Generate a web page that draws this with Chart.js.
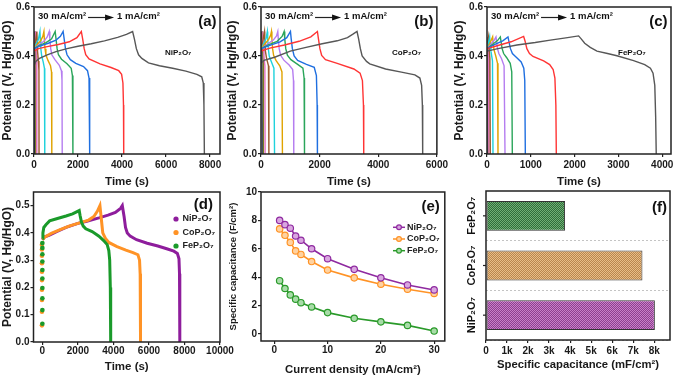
<!DOCTYPE html>
<html>
<head>
<meta charset="utf-8">
<script src="https://cdn.jsdelivr.net/npm/chart.js@4.4.1/dist/chart.umd.min.js"></script>
<style>
  body { margin: 0; background: #fff; width: 676px; height: 378px; position: relative; overflow: hidden; }
  .cell { position: absolute; }
</style>
</head>
<body>
<div class="cell" style="left:0;top:0"><canvas id="pa" width="225" height="190"></canvas></div>
<div class="cell" style="left:225px;top:0"><canvas id="pb" width="225" height="190"></canvas></div>
<div class="cell" style="left:450px;top:0"><canvas id="pc" width="226" height="190"></canvas></div>
<div class="cell" style="left:0;top:185px"><canvas id="pd" width="240" height="193"></canvas></div>
<div class="cell" style="left:225px;top:185px"><canvas id="pe" width="225" height="193"></canvas></div>
<div class="cell" style="left:450px;top:185px"><canvas id="pf" width="226" height="193"></canvas></div>
<script>
// current densities (mA/cm2), the GCD curves below go in this order
const currents = [1, 2, 3, 4, 5, 7, 10, 15, 20, 25, 30];
const gcdColors = ['#575757', '#ff3434', '#1f6fe0', '#2aa55a', '#b57df0', '#e0a300',
                   '#1ed2dc', '#9c5a2c', '#e070c0', '#7a7a20', '#203c90'];

// tick values
const potTicks = [0, 0.2, 0.4, 0.6];
const niTimeTicks = [0, 2000, 4000, 6000, 8000];
const coTimeTicks = [0, 2000, 4000, 6000];
const feTimeTicks = [0, 1000, 2000, 3000, 4000];
const dTimeTicks = [0, 2000, 4000, 6000, 8000, 10000];
const dPotTicks = [0, 0.1, 0.2, 0.3, 0.4, 0.5];
const capTicks = [0, 2, 4, 6, 8, 10];
const curTicks = [0, 10, 20, 30];
const barTicks = [0, 1000, 2000, 3000, 4000, 5000, 6000, 7000, 8000];

// (a) NiP2O7 charge/discharge, [time s, potential V]
const niGcd = [
  [[0,0.36],[80,0.378],[250,0.39],[600,0.405],[1000,0.418],[1500,0.43],[2000,0.44],[2600,0.45],[3200,0.462],[3800,0.476],[4200,0.488],[4480,0.5],[4560,0.47],[4650,0.43],[4750,0.405],[4900,0.39],[5200,0.372],[5700,0.36],[6300,0.35],[6900,0.338],[7400,0.325],[7620,0.315],[7690,0.29],[7720,0.2],[7740,0]],
  [[0,0.42],[200,0.43],[600,0.438],[1100,0.447],[1600,0.458],[1950,0.475],[2150,0.5],[2210,0.47],[2280,0.43],[2350,0.405],[2500,0.388],[3000,0.368],[3500,0.353],[3850,0.34],[3980,0.325],[4040,0.29],[4065,0.2],[4076,0]],
  [[0,0.43],[250,0.44],[650,0.452],[1000,0.465],[1200,0.48],[1323,0.5],[1370,0.47],[1430,0.43],[1500,0.405],[1650,0.385],[1900,0.37],[2250,0.357],[2430,0.34],[2500,0.31],[2525,0.2],[2534,0]],
  [[0,0.43],[250,0.443],[550,0.455],[800,0.47],[962,0.5],[1000,0.47],[1050,0.43],[1110,0.405],[1250,0.387],[1500,0.368],[1690,0.35],[1745,0.32],[1765,0.2],[1771,0]],
  [[0,0.43],[200,0.445],[450,0.46],[600,0.478],[692,0.5],[720,0.47],[760,0.43],[810,0.405],[950,0.385],[1150,0.362],[1245,0.34],[1272,0.3],[1282,0]],
  [[0,0.43],[150,0.447],[300,0.462],[400,0.48],[451,0.5],[470,0.47],[500,0.43],[540,0.405],[630,0.383],[750,0.36],[795,0.335],[809,0]],
  [[0,0.43],[100,0.45],[200,0.468],[270,0.5],[285,0.47],[310,0.43],[350,0.4],[420,0.375],[475,0.35],[489,0]],
  [[0,0.435],[60,0.455],[130,0.5],[140,0.47],[160,0.42],[200,0.38],[225,0.34],[229,0]],
  [[0,0.44],[40,0.465],[75,0.5],[85,0.46],[105,0.4],[125,0.36],[130,0]],
  [[0,0.44],[45,0.5],[55,0.45],[75,0.38],[80,0]],
  [[0,0.44],[25,0.5],[32,0.44],[45,0]]
];

// (b) CoP2O7
const coGcd = [
  [[0,0.37],[100,0.382],[465,0.395],[1000,0.42],[1500,0.434],[2086,0.45],[2600,0.462],[2950,0.475],[3150,0.49],[3276,0.5],[3330,0.47],[3390,0.43],[3450,0.4],[3600,0.378],[3710,0.368],[4250,0.347],[4790,0.334],[5250,0.323],[5420,0.31],[5480,0.28],[5505,0.2],[5516,0]],
  [[0,0.42],[300,0.432],[800,0.445],[1300,0.46],[1700,0.478],[1924,0.5],[1960,0.47],[2010,0.43],[2070,0.402],[2200,0.385],[2600,0.37],[3168,0.347],[3380,0.33],[3460,0.3],[3495,0.2],[3505,0]],
  [[0,0.43],[300,0.443],[650,0.458],[880,0.475],[1005,0.5],[1030,0.47],[1070,0.43],[1130,0.4],[1250,0.382],[1550,0.366],[1816,0.354],[1890,0.32],[1915,0.2],[1925,0]],
  [[0,0.43],[250,0.445],[550,0.46],[720,0.48],[789,0.5],[810,0.47],[845,0.43],[900,0.403],[1020,0.385],[1250,0.366],[1430,0.35],[1470,0.31],[1484,0]],
  [[0,0.43],[200,0.447],[420,0.465],[530,0.482],[573,0.5],[590,0.47],[620,0.43],[670,0.403],[780,0.383],[960,0.363],[1080,0.345],[1108,0.3],[1118,0]],
  [[0,0.43],[120,0.447],[260,0.468],[330,0.485],[357,0.5],[372,0.47],[395,0.43],[430,0.403],[510,0.382],[640,0.36],[715,0.335],[731,0]],
  [[0,0.43],[80,0.448],[170,0.47],[216,0.5],[228,0.47],[250,0.43],[280,0.4],[350,0.378],[440,0.35],[462,0]],
  [[0,0.435],[50,0.455],[119,0.5],[128,0.47],[150,0.42],[190,0.39],[255,0.36],[269,0]],
  [[0,0.44],[35,0.465],[65,0.5],[75,0.45],[100,0.4],[132,0.36],[140,0]],
  [[0,0.44],[40,0.5],[50,0.44],[72,0.38],[80,0]],
  [[0,0.44],[25,0.5],[32,0.44],[50,0]]
];

// (c) FeP2O7
const feGcd = [
  [[0,0.42],[250,0.43],[684,0.445],[1100,0.455],[1445,0.465],[1800,0.474],[2091,0.482],[2150,0.47],[2230,0.452],[2357,0.435],[2510,0.42],[2750,0.41],[2966,0.401],[3346,0.381],[3600,0.365],[3730,0.35],[3790,0.33],[3830,0.28],[3850,0.15],[3863,0]],
  [[0,0.43],[250,0.443],[550,0.458],[836,0.48],[870,0.46],[910,0.43],[970,0.41],[1050,0.398],[1293,0.38],[1430,0.365],[1510,0.345],[1550,0.31],[1572,0.2],[1582,0]],
  [[0,0.43],[180,0.447],[360,0.462],[479,0.478],[500,0.46],[535,0.43],[580,0.41],[650,0.398],[780,0.376],[840,0.35],[862,0.3],[875,0]],
  [[0,0.43],[130,0.448],[240,0.463],[304,0.478],[320,0.46],[345,0.43],[380,0.41],[450,0.393],[530,0.37],[565,0.335],[578,0]],
  [[0,0.43],[90,0.448],[165,0.465],[205,0.478],[218,0.46],[240,0.43],[270,0.41],[330,0.39],[390,0.36],[411,0]],
  [[0,0.43],[60,0.45],[129,0.478],[140,0.455],[160,0.425],[200,0.4],[240,0.37],[251,0]],
  [[0,0.435],[35,0.455],[61,0.478],[70,0.455],[90,0.42],[125,0.38],[137,0]],
  [[0,0.44],[35,0.478],[45,0.44],[65,0.39],[75,0]],
  [[0,0.44],[20,0.478],[28,0.44],[45,0]],
  [[0,0.445],[12,0.478],[18,0.44],[28,0]],
  [[0,0.445],[8,0.478],[12,0.44],[18,0]]
];

// (d) 1 mA/cm2 comparison
const niOne = [[0,0.375],[100,0.385],[400,0.392],[800,0.405],[1333,0.42],[2000,0.435],[2500,0.443],[3185,0.455],[3700,0.465],[4110,0.475],[4400,0.49],[4500,0.5],[4600,0.46],[4680,0.42],[4780,0.4],[4944,0.388],[5300,0.375],[5900,0.362],[6500,0.352],[7000,0.342],[7400,0.333],[7600,0.325],[7690,0.305],[7720,0.25],[7735,0.1],[7740,0]];
const coOne = [[0,0.375],[150,0.385],[500,0.398],[1000,0.412],[1500,0.425],[2000,0.435],[2600,0.447],[2900,0.46],[3100,0.48],[3240,0.5],[3320,0.45],[3400,0.4],[3550,0.38],[3740,0.365],[4200,0.35],[4700,0.337],[5100,0.328],[5380,0.32],[5470,0.3],[5505,0.25],[5522,0.1],[5530,0]];
const feOne = [[0,0.38],[30,0.4],[80,0.42],[200,0.43],[407,0.444],[800,0.452],[1333,0.462],[1700,0.47],[2074,0.482],[2120,0.465],[2200,0.44],[2300,0.425],[2444,0.415],[2800,0.405],[3185,0.388],[3450,0.372],[3650,0.357],[3740,0.335],[3790,0.3],[3825,0.2],[3842,0.1],[3850,0]];
const feRise = [[0,0.067],[0,0.117],[0,0.16],[0,0.198],[0,0.233],[0,0.264],[0,0.295],[0,0.322],[0,0.345],[0,0.363]];
const coRise = [[-25,0.061],[-25,0.111],[-25,0.154],[-25,0.192],[-25,0.227],[-25,0.258],[-25,0.289],[-25,0.316],[-25,0.339],[-25,0.357]];

// (e) specific capacitance (F/cm2) vs current density
const niCap = [8.0, 7.7, 7.45, 6.9, 6.6, 6.0, 5.3, 4.55, 3.95, 3.45, 3.1];
const coCap = [7.4, 6.95, 6.45, 5.85, 5.6, 5.1, 4.5, 3.95, 3.5, 3.15, 2.85];
const feCap = [3.75, 3.2, 2.75, 2.45, 2.2, 1.9, 1.5, 1.1, 0.85, 0.6, 0.2];

// (f) specific capacitance at 1 mA/cm2 (mF/cm2), top to bottom
const barNames = ['FeP\u2082O\u2087', 'CoP\u2082O\u2087', 'NiP\u2082O\u2087'];
const barValues = [3760, 7440, 8030];

const FONT = '"Liberation Sans", Arial, sans-serif';
Chart.defaults.font.family = FONT;
Chart.defaults.font.weight = 'bold';
Chart.defaults.color = '#1a1a1a';
Chart.defaults.animation = false;

// frame, panel letter, notes, legend
const notes = {
  id: 'notes',
  afterDraw(chart, args, o) {
    const { ctx, chartArea: a } = chart;
    ctx.save();
    ctx.fillStyle = '#111';
    ctx.textBaseline = 'middle';
    if (o.sideLabels) {
      const ys = chart.scales.y;
      ctx.font = 'bold 11px ' + FONT;
      ctx.textAlign = 'center';
      chart.data.labels.forEach((lab, i) => {
        const py = ys.getPixelForValue(i);
        ctx.strokeStyle = '#222'; ctx.lineWidth = 1.2;
        ctx.beginPath(); ctx.moveTo(a.left - 3, py); ctx.lineTo(a.left, py); ctx.stroke();
        ctx.save(); ctx.translate(a.left - 14, py); ctx.rotate(-Math.PI / 2);
        ctx.fillText(lab, 0, 0); ctx.restore();
      });
    }
    ctx.strokeStyle = '#222'; ctx.lineWidth = 1.5;
    ctx.strokeRect(a.left, a.top, a.right - a.left, a.bottom - a.top);
    ctx.font = 'bold 15px ' + FONT;
    ctx.textAlign = 'right';
    ctx.fillText(o.letter, a.right - o.lx, a.top + o.ly);
    ctx.textAlign = 'left';
    if (o.rate) {
      ctx.font = 'bold 9.5px ' + FONT;
      let x = a.left + 4; const y = a.top + 9;
      ctx.fillText('30 mA/cm\u00B2', x, y);
      x += ctx.measureText('30 mA/cm\u00B2').width + 2;
      ctx.lineWidth = 1.2;
      ctx.beginPath(); ctx.moveTo(x, y + 1.5); ctx.lineTo(x + 20, y + 1.5); ctx.stroke();
      ctx.beginPath(); ctx.moveTo(x + 26, y + 1.5); ctx.lineTo(x + 17, y - 1.5); ctx.lineTo(x + 17, y + 4.5); ctx.closePath(); ctx.fill();
      ctx.fillText('1 mA/cm\u00B2', x + 29, y);
    }
    if (o.material) {
      ctx.font = 'bold 8px ' + FONT;
      ctx.fillText(o.material, a.left + 131, a.top + 46);
    }
    if (o.legend) {
      const L = o.legend;
      let y = a.top + L.y;
      ctx.font = 'bold 9px ' + FONT;
      chart.data.datasets.filter(d => d.label).forEach(d => {
        ctx.strokeStyle = d.borderColor;
        if (L.line) {
          ctx.lineWidth = 1.5;
          ctx.beginPath(); ctx.moveTo(a.left + L.x0, y); ctx.lineTo(a.left + L.x1, y); ctx.stroke();
        }
        ctx.fillStyle = d.pointBackgroundColor || d.borderColor;
        ctx.beginPath(); ctx.arc(a.left + L.mx, y, L.r, 0, 2 * Math.PI); ctx.fill();
        if (L.line) { ctx.lineWidth = 1.2; ctx.stroke(); }
        ctx.fillStyle = '#222';
        ctx.fillText(d.label, a.left + L.tx, y);
        y += L.step;
      });
    }
    ctx.restore();
  }
};

// chart area placement inside each canvas
function place(w, h, l, r, t, b) {
  return { padding: { left: 0, top: t, right: w - r, bottom: 0 }, yw: l, xh: h - b };
}

function axis(o) {
  return {
    type: 'linear', min: o.min, max: o.max,
    afterFit: s => { if (o.w !== undefined) s.width = o.w; if (o.h !== undefined) s.height = o.h; },
    afterBuildTicks: s => { s.ticks = o.ticks.map(v => ({ value: v })); },
    ticks: { padding: o.pad, font: { size: 10, weight: 'bold' }, color: '#1a1a1a', callback: o.fmt, autoSkip: false, maxRotation: 0 },
    grid: { drawOnChartArea: false, drawTicks: true, tickLength: 3, color: '#222', lineWidth: 1.2 },
    border: { display: false },
    title: { display: true, text: o.title, color: '#1a1a1a', font: { size: o.ts, weight: 'bold' }, padding: o.tp }
  };
}

function gcdChart(id, curves, p, xMax, xTicks, letter, material, ytp) {
  new Chart(document.getElementById(id), {
    type: 'line',
    data: {
      datasets: curves.map((c, i) => ({
        data: c, borderColor: gcdColors[i], borderWidth: 1.4, pointRadius: 0, tension: 0
      }))
    },
    options: {
      responsive: false,
      layout: { padding: p.padding },
      plugins: { legend: { display: false }, tooltip: { enabled: false },
                 notes: { letter, lx: 3.5, ly: 15, rate: true, material } },
      scales: {
        x: axis({ min: 0, max: xMax, ticks: xTicks, h: p.xh, pad: 2,
                  fmt: v => String(v), title: 'Time (s)', ts: 11.5, tp: { top: 0, bottom: 1.7 } }),
        y: axis({ min: 0, max: 0.6, ticks: potTicks, w: p.yw, pad: 1,
                  fmt: v => v.toFixed(1), title: 'Potential (V, Hg/HgO)', ts: 12, tp: { top: ytp, bottom: 0 } })
      }
    },
    plugins: [notes]
  });
}

gcdChart('pa', niGcd, place(225, 190, 34, 220, 6, 154), 8450, niTimeTicks, '(a)', 'NiP\u2082O\u2087', 0.9);
gcdChart('pb', coGcd, place(225, 190, 36, 221, 6, 154), 6000, coTimeTicks, '(b)', 'CoP\u2082O\u2087', 0.4);
gcdChart('pc', feGcd, place(226, 190, 37, 221, 6, 154), 4200, feTimeTicks, '(c)', 'FeP\u2082O\u2087', 2.4);

// (d)
const pd = place(240, 193, 33.5, 220, 7, 157);
new Chart(document.getElementById('pd'), {
  type: 'line',
  data: {
    datasets: [
      { label: 'NiP\u2082O\u2087', data: niOne, borderColor: '#8e1d9c', borderWidth: 3, pointRadius: 0, order: 2 },
      { label: 'CoP\u2082O\u2087', data: coOne, borderColor: '#ff9326', borderWidth: 3, pointRadius: 0, order: 1 },
      { label: 'FeP\u2082O\u2087', data: feOne, borderColor: '#1a9a2a', borderWidth: 3, pointRadius: 0, order: 0 },
      { data: coRise, showLine: false, pointRadius: 2.3, pointBorderWidth: 0, pointBackgroundColor: '#ff9326', borderColor: '#ff9326', order: 1 },
      { data: feRise, showLine: false, pointRadius: 2.3, pointBorderWidth: 0, pointBackgroundColor: '#1a9a2a', borderColor: '#1a9a2a', order: 0 }
    ]
  },
  options: {
    responsive: false,
    layout: { padding: pd.padding },
    plugins: { legend: { display: false }, tooltip: { enabled: false },
               notes: { letter: '(d)', lx: 7, ly: 13,
                        legend: { y: 27, step: 13.5, mx: 142.5, r: 2.6, tx: 149 } } },
    scales: {
      x: axis({ min: -500, max: 10000, ticks: dTimeTicks, h: pd.xh, pad: 0.3,
                fmt: v => String(v), title: 'Time (s)', ts: 11.5, tp: { top: 0, bottom: 4.4 } }),
      y: axis({ min: 0, max: 0.55, ticks: dPotTicks, w: pd.yw, pad: 1,
                fmt: v => v.toFixed(1), title: 'Potential (V, Hg/HgO)', ts: 12, tp: { top: 0, bottom: 0 } })
    }
  },
  plugins: [notes]
});

// (e)
const pe = place(225, 193, 36, 220, 7, 156);
const capSet = (label, vals, line, fill) => ({
  label, data: vals.map((v, i) => [currents[i], v]), borderColor: line, borderWidth: 1.6,
  pointRadius: 3.2, pointBorderWidth: 1.2, pointBackgroundColor: fill, pointBorderColor: line, tension: 0
});
new Chart(document.getElementById('pe'), {
  type: 'line',
  data: {
    datasets: [
      capSet('NiP\u2082O\u2087', niCap, '#8f2aa0', '#d9a6e0'),
      capSet('CoP\u2082O\u2087', coCap, '#ff9326', '#ffd2a0'),
      capSet('FeP\u2082O\u2087', feCap, '#2a9a2a', '#a8dca8')
    ]
  },
  options: {
    responsive: false,
    layout: { padding: pe.padding },
    plugins: { legend: { display: false }, tooltip: { enabled: false },
               notes: { letter: '(e)', lx: 5, ly: 14.7,
                        legend: { line: true, y: 35.3, step: 11.7, x0: 132, x1: 144, mx: 138, r: 2.4, tx: 146 } } },
    scales: {
      x: axis({ min: -2.5, max: 32, ticks: curTicks, h: pe.xh, pad: 0.3,
                fmt: v => String(v), title: 'Current density (mA/cm\u00B2)', ts: 11.3, tp: { top: 0, bottom: 1.7 } }),
      y: axis({ min: -0.5, max: 10, ticks: capTicks, w: pe.yw, pad: 1,
                fmt: v => String(v), title: 'Specific capacitance (F/cm\u00B2)', ts: 9.5, tp: { top: 2.4, bottom: 0 } })
    }
  },
  plugins: [notes]
});

// (f)
function checker(light, dark) {
  const c = document.createElement('canvas');
  c.width = 2; c.height = 2;
  const g = c.getContext('2d');
  g.fillStyle = light; g.fillRect(0, 0, 2, 2);
  g.fillStyle = dark; g.fillRect(0, 0, 1, 1); g.fillRect(1, 1, 1, 1);
  return g.createPattern(c, 'repeat');
}
const pf = place(226, 193, 36, 220, 6, 155);
new Chart(document.getElementById('pf'), {
  type: 'bar',
  data: {
    labels: barNames,
    datasets: [{
      data: barValues,
      backgroundColor: [checker('#70ae74', '#2f6d3a'), checker('#e8bd86', '#b9864e'), checker('#c880c7', '#8d3f8f')],
      borderColor: '#333', borderWidth: 1, borderSkipped: false,
      barPercentage: 0.6, categoryPercentage: 1
    }]
  },
  options: {
    responsive: false,
    indexAxis: 'y',
    layout: { padding: pf.padding },
    plugins: { legend: { display: false }, tooltip: { enabled: false },
               notes: { letter: '(f)', lx: 3, ly: 17, sideLabels: true } },
    scales: {
      x: axis({ min: 0, max: 8750, ticks: barTicks, h: pf.xh, pad: 2.7,
                fmt: v => v === 0 ? '0' : (v / 1000) + 'k', title: 'Specific capacitance (mF/cm\u00B2)', ts: 11.3,
                tp: { top: 0, bottom: 6.4 } }),
      y: {
        type: 'category', offset: true,
        afterFit: s => { s.width = pf.yw; },
        ticks: { display: false },
        grid: { offset: true, drawTicks: false, lineWidth: 1,
                color: c => (c.index === 0 || c.index === barNames.length) ? 'rgba(0,0,0,0)' : '#c4c4c4' },
        border: { display: false, dash: [2, 2] }
      }
    }
  },
  plugins: [notes]
});
</script>
</body>
</html>
